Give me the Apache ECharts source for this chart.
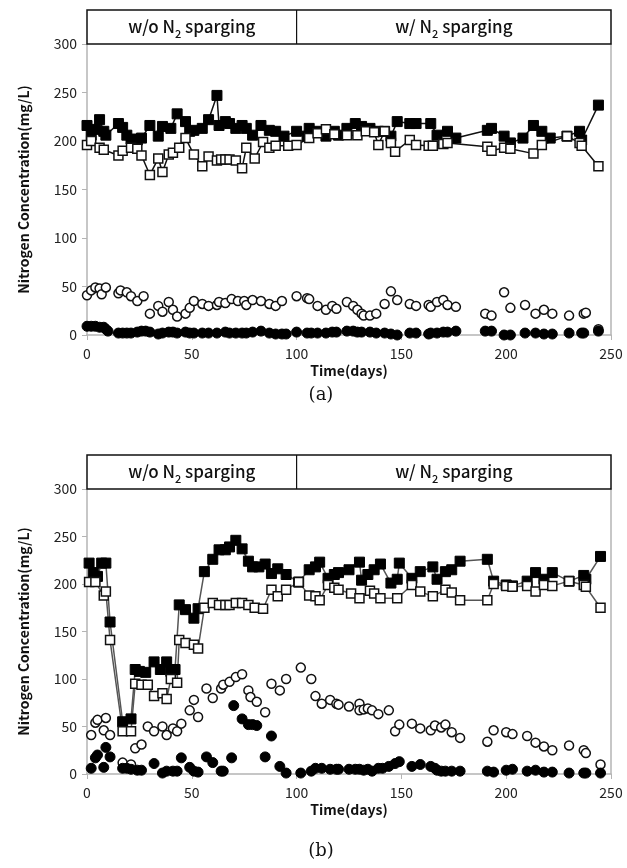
<!DOCTYPE html>
<html>
<head>
<meta charset="utf-8">
<script src="https://cdn.jsdelivr.net/npm/echarts@6/dist/echarts.min.js"></script>
<style>
  html, body { margin: 0; padding: 0; background: #fff; }
  #chart { width: 627px; height: 868px; }
</style>
</head>
<body>
<div id="chart"></div>
<script>
// ---- values: [day, mg/L] ----
const xTicks = [0, 50, 100, 150, 200, 250]
const yTicks = [0, 50, 100, 150, 200, 250, 300]
const phaseSplitDay = 100
const phaseNames = [['w/o N', '2', ' sparging'], ['w/ N', '2', ' sparging']]
const captions = ['(a)', '(b)']

// panel (a)
const aFilledSq = [[0,216],[2,206],[4,212],[6,222],[8,210],[9,206],[15,218],[17,214],[19,206],[21,202],[24,201],[26,203],[30,216],[34,205],[36,215],[40,213],[43,228],[47,220],[49,210],[51,211],[55,213],[58,222],[62,247],[63,216],[66,220],[68,218],[71,213],[74,216],[76,213],[79,206],[83,216],[87,211],[90,210],[94,205],[100,210],[105,205],[106,213],[110,210],[114,205],[118,210],[120,206],[124,213],[128,218],[131,215],[135,213],[139,210],[142,210],[145,205],[148,220],[154,218],[157,218],[164,218],[167,206],[172,210],[176,203],[191,211],[193,213],[199,205],[202,198],[208,203],[213,216],[217,210],[221,203],[229,205],[235,210],[236,201],[244,237]]
const aOpenSq = [[0,196],[2,200],[6,193],[8,191],[15,185],[17,190],[21,193],[24,192],[26,185],[30,165],[34,182],[36,168],[39,186],[41,188],[44,193],[47,203],[51,186],[55,174],[58,184],[62,180],[64,181],[66,181],[68,181],[71,180],[74,172],[76,193],[80,182],[84,199],[87,193],[90,195],[96,195],[100,196],[106,203],[110,208],[114,212],[118,207],[124,206],[129,206],[133,210],[137,209],[139,196],[142,210],[145,198],[147,189],[154,201],[157,196],[163,195],[165,195],[170,197],[172,198],[191,194],[193,190],[199,193],[202,192],[213,187],[217,196],[229,205],[235,198],[236,195],[244,174]]
const aOpenCir = [[0,41],[2,46],[4,49],[6,48],[7,42],[9,49],[15,43],[16,46],[19,44],[21,40],[24,35],[27,40],[30,22],[34,30],[36,24],[39,34],[41,26],[43,19],[47,22],[49,28],[51,35],[55,32],[58,30],[62,31],[63,34],[66,33],[69,37],[72,35],[75,35],[76,31],[79,36],[83,35],[87,32],[90,30],[93,35],[100,40],[105,38],[106,37],[110,30],[114,26],[117,30],[119,27],[124,34],[127,30],[129,26],[131,22],[132,20],[135,20],[138,22],[142,32],[145,45],[148,36],[154,32],[157,30],[163,31],[164,29],[167,34],[170,36],[172,31],[176,29],[190,22],[193,20],[199,44],[202,28],[209,31],[214,22],[218,26],[222,22],[230,20],[237,22],[238,23],[244,6]]
const aFilledCir = [[0,9],[2,9],[4,9],[6,8],[8,8],[9,6],[10,4],[15,2],[17,2],[19,2],[21,2],[24,3],[26,4],[28,4],[30,3],[34,1],[36,2],[39,3],[41,3],[43,2],[47,3],[49,2],[51,2],[55,2],[58,2],[62,2],[66,3],[68,2],[71,2],[74,2],[76,2],[79,3],[83,4],[87,2],[90,1],[93,1],[95,1],[100,3],[105,2],[107,2],[110,2],[114,2],[117,3],[119,3],[124,4],[127,4],[129,3],[131,3],[135,3],[138,2],[142,2],[145,1],[148,0],[154,2],[157,2],[163,1],[164,2],[167,2],[170,3],[172,3],[176,4],[190,4],[193,4],[199,0],[202,0],[209,2],[214,2],[218,1],[222,1],[230,2],[236,2],[237,2],[244,4]]

// panel (b)
const bFilledSq = [[1,222],[3,212],[5,208],[7,222],[9,222],[11,160],[17,55],[21,58],[23,110],[25,108],[28,107],[32,118],[35,110],[38,118],[40,108],[42,110],[44,178],[47,173],[51,164],[53,174],[56,213],[60,226],[63,236],[66,236],[68,239],[71,246],[74,237],[77,224],[79,218],[82,218],[85,221],[88,211],[91,216],[95,210],[101,202],[106,215],[109,218],[111,223],[115,206],[118,210],[120,212],[125,215],[130,223],[131,204],[134,210],[137,215],[140,221],[145,201],[148,205],[149,222],[155,206],[159,213],[165,218],[167,205],[171,213],[174,215],[178,224],[191,226],[194,203],[200,199],[203,198],[210,203],[214,212],[218,205],[222,212],[230,203],[237,209],[238,205],[245,229]]
const bOpenSq = [[1,202],[4,202],[8,188],[9,192],[11,141],[17,45],[21,45],[23,95],[26,94],[29,94],[32,82],[36,85],[38,79],[40,100],[43,96],[44,141],[47,138],[51,136],[53,132],[56,175],[60,180],[63,178],[66,178],[68,178],[71,180],[74,180],[77,178],[80,175],[84,174],[88,194],[91,187],[95,194],[101,202],[106,188],[109,187],[111,183],[115,199],[118,196],[120,194],[126,190],[130,185],[135,193],[137,190],[140,185],[148,185],[155,199],[159,192],[165,187],[171,194],[174,191],[178,183],[191,183],[194,200],[200,198],[203,197],[210,198],[214,192],[218,199],[222,198],[230,203],[237,199],[238,197],[245,175]]
const bOpenCir = [[2,41],[4,54],[5,57],[8,46],[9,59],[11,41],[17,12],[21,10],[23,27],[26,31],[29,50],[32,45],[36,50],[38,41],[41,48],[43,45],[45,53],[49,67],[51,78],[53,60],[57,90],[60,80],[64,90],[65,94],[68,97],[71,102],[74,105],[77,88],[78,81],[81,76],[85,65],[88,95],[92,88],[95,100],[102,112],[107,100],[109,82],[112,74],[116,78],[119,74],[120,73],[125,71],[130,74],[130,67],[132,68],[134,69],[136,67],[139,63],[144,67],[147,45],[149,52],[155,53],[159,48],[164,46],[166,51],[169,49],[171,52],[174,44],[178,38],[191,34],[194,46],[200,44],[203,42],[210,40],[214,33],[218,29],[222,25],[230,30],[237,25],[238,22],[245,10]]
const bFilledCir = [[2,6],[4,17],[5,20],[8,7],[9,28],[11,18],[17,6],[19,6],[21,5],[24,4],[26,4],[32,11],[36,1],[38,3],[41,3],[43,3],[45,17],[49,7],[51,3],[53,2],[57,18],[60,12],[64,3],[65,3],[69,17],[70,72],[74,58],[77,52],[79,52],[81,51],[85,18],[88,40],[92,8],[95,1],[102,1],[107,3],[109,6],[112,6],[116,5],[119,5],[120,5],[125,5],[128,5],[130,5],[132,4],[134,5],[136,3],[139,6],[141,6],[144,8],[147,11],[149,13],[155,8],[159,10],[164,8],[166,6],[167,4],[169,3],[171,3],[174,3],[178,3],[191,3],[194,2],[200,4],[203,5],[210,3],[214,4],[218,2],[222,2],[230,1],[237,1],[238,1],[245,1]]

const panels = [
  { sq: aFilledSq, osq: aOpenSq, ocir: aOpenCir, cir: aFilledCir, lineColor: '#111', captionGap: 60 },
  { sq: bFilledSq, osq: bOpenSq, ocir: bOpenCir, cir: bFilledCir, lineColor: '#555', captionGap: 77 }
]

const FONT = 'Noto Sans CJK KR'
const AXIS_GRAY = '#b4b4b4'
const grids = [
  { left: 87, right: 16, top: 44, height: 291 },
  { left: 87, right: 16, top: 489, height: 285 }
]

const chart = echarts.init(document.getElementById('chart'), null, { renderer: 'canvas' })

const xAxis = [], yAxis = [], series = []
panels.forEach((p, i) => {
  xAxis.push({
    type: 'value', gridIndex: i,
    min: xTicks[0], max: xTicks[xTicks.length - 1], interval: xTicks[1] - xTicks[0],
    axisLine: { show: true, lineStyle: { color: AXIS_GRAY, width: 1.5 } },
    axisTick: { show: true, length: 5, lineStyle: { color: AXIS_GRAY } },
    axisLabel: { color: '#222', fontSize: 14, fontFamily: FONT, margin: 12 },
    splitLine: { show: false },
    name: 'Time(days)', nameLocation: 'middle', nameGap: 29,
    nameTextStyle: { color: '#111', fontSize: 14, fontWeight: 'bold', fontFamily: FONT }
  })
  yAxis.push({
    type: 'value', gridIndex: i, position: 'left',
    min: yTicks[0], max: yTicks[yTicks.length - 1], interval: yTicks[1] - yTicks[0],
    axisLine: { show: true, lineStyle: { color: AXIS_GRAY, width: 1.5 } },
    axisTick: { show: true, length: 5, lineStyle: { color: AXIS_GRAY } },
    axisLabel: { color: '#222', fontSize: 14, fontFamily: FONT, margin: 10 },
    splitLine: { show: false },
    name: 'Nitrogen Concentration(mg/L)', nameLocation: 'middle', nameGap: 56,
    nameTextStyle: { color: '#111', fontSize: 14, fontWeight: 'bold', fontFamily: FONT }
  })
  // right frame line
  yAxis.push({
    type: 'value', gridIndex: i, position: 'right',
    min: yTicks[0], max: yTicks[yTicks.length - 1],
    axisLine: { show: true, lineStyle: { color: AXIS_GRAY, width: 1.5 } },
    axisTick: { show: false }, axisLabel: { show: false }, splitLine: { show: false }
  })
  const yIdx = i * 2
  series.push({
    type: 'line', xAxisIndex: i, yAxisIndex: yIdx, data: p.sq,
    symbol: 'rect', symbolSize: 10, showSymbol: true,
    lineStyle: { color: p.lineColor, width: 1.5 },
    itemStyle: { color: '#000', borderColor: '#000', borderWidth: 1, opacity: 1 }
  })
  series.push({
    type: 'line', xAxisIndex: i, yAxisIndex: yIdx, data: p.osq,
    symbol: 'rect', symbolSize: 9, showSymbol: true,
    lineStyle: { color: p.lineColor, width: 1.5 },
    itemStyle: { color: '#fff', borderColor: '#111', borderWidth: 1.5, opacity: 1 }
  })
  series.push({
    type: 'scatter', xAxisIndex: i, yAxisIndex: yIdx, data: p.ocir,
    symbol: 'circle', symbolSize: 9,
    itemStyle: { color: '#fff', borderColor: '#111', borderWidth: 1.5, opacity: 1 }
  })
  series.push({
    type: 'scatter', xAxisIndex: i, yAxisIndex: yIdx, data: p.cir,
    symbol: 'circle', symbolSize: 10,
    itemStyle: { color: '#000', borderColor: '#000', borderWidth: 1, opacity: 1 }
  })
})

chart.setOption({
  animation: false,
  backgroundColor: '#fff',
  grid: grids,
  xAxis: xAxis,
  yAxis: yAxis,
  series: series.map(s => Object.assign(s, { emphasis: { disabled: true }, silent: true }))
})

// header boxes and captions placed from the axes
const graphics = []
panels.forEach((p, i) => {
  const xl = chart.convertToPixel({ xAxisIndex: i }, xTicks[0])
  const xr = chart.convertToPixel({ xAxisIndex: i }, xTicks[xTicks.length - 1])
  const xs = chart.convertToPixel({ xAxisIndex: i }, phaseSplitDay)
  const yt = chart.convertToPixel({ yAxisIndex: i * 2 }, yTicks[yTicks.length - 1])
  const yb = chart.convertToPixel({ yAxisIndex: i * 2 }, yTicks[0])
  const h = 34
  graphics.push({
    type: 'rect', shape: { x: xl, y: yt - h, width: xr - xl, height: h },
    style: { fill: 'none', stroke: '#111', lineWidth: 1.5 }, z: 10
  })
  graphics.push({
    type: 'line', shape: { x1: xs, y1: yt - h, x2: xs, y2: yt },
    style: { stroke: '#111', lineWidth: 1.2 }, z: 10
  })
  const centers = [(xl + xs) / 2, (xs + xr) / 2]
  phaseNames.forEach((parts, k) => {
    graphics.push({
      type: 'text', x: centers[k], y: yt - h / 2, z: 11,
      style: {
        text: '{n|' + parts[0] + '}{s|' + parts[1] + '}{n|' + parts[2] + '}',
        align: 'center', verticalAlign: 'middle',
        rich: {
          n: { fontSize: 17, fontFamily: FONT, fontWeight: 500, fill: '#111', lineHeight: 24 },
          s: { fontSize: 11, fontFamily: FONT, fontWeight: 500, fill: '#111', lineHeight: 14, verticalAlign: 'bottom' }
        }
      }
    })
  })
  graphics.push({
    type: 'text', x: (xl + xr) / 2 - 28, y: yb + p.captionGap, z: 11,
    style: {
      text: captions[i], align: 'center', verticalAlign: 'middle',
      font: '18px "DejaVu Serif"', fill: '#111'
    }
  })
})
chart.setOption({ graphic: graphics })
</script>
</body>
</html>
